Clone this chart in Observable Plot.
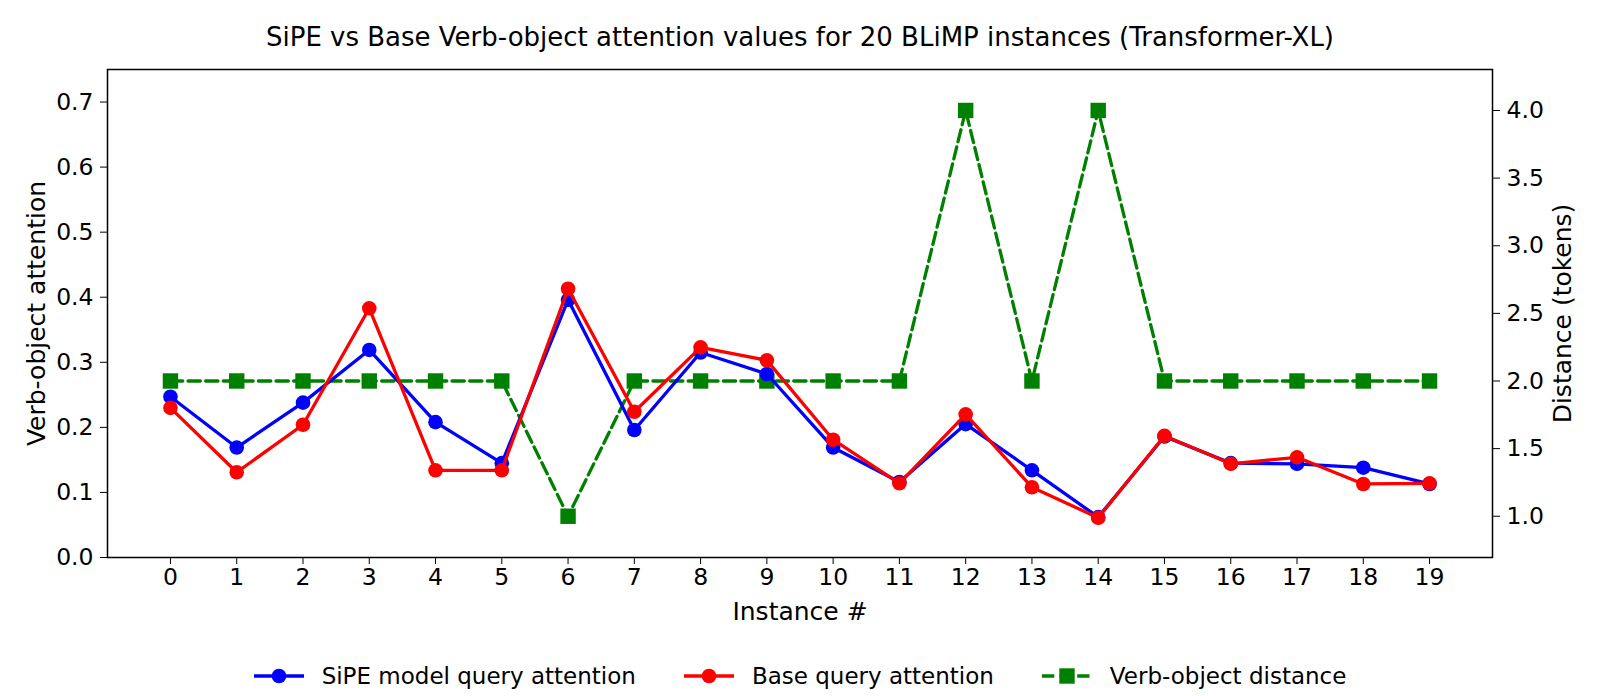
<!DOCTYPE html>
<html>
<head>
<meta charset="utf-8">
<script src="https://cdn.jsdelivr.net/npm/d3@7"></script>
<script src="https://cdn.jsdelivr.net/npm/@observablehq/plot@0.6"></script>
<style>
  html, body { margin: 0; padding: 0; background: #fff; }
  body { width: 1600px; height: 696px; position: relative; overflow: hidden; font-family: "DejaVu Sans", sans-serif; }
  #title { position: absolute; left: 0; top: 22px; width: 1600px; text-align: center; font-size: 26px; line-height: 30px; color: #000; }
  #chart { position: absolute; left: 0; top: 55px; width: 1600px; height: 585px; }
  #chart svg { position: absolute; left: 0; top: 0; background: transparent; }
  #legend { position: absolute; left: 0; top: 660px; width: 1600px; height: 32px; display: flex; justify-content: center; align-items: center; font-size: 23px; }
  .item { display: flex; align-items: center; margin: 0 24px; }
  .item svg { margin-right: 18px; }
</style>
</head>
<body>
<div id="title">SiPE vs Base Verb-object attention values for 20 BLiMP instances (Transformer-XL)</div>
<div id="chart"></div>
<div id="legend"></div>
<script>
const instances = [0,1,2,3,4,5,6,7,8,9,10,11,12,13,14,15,16,17,18,19];
const sipeAttention = [0.247,0.169,0.238,0.319,0.208,0.145,0.396,0.196,0.315,0.282,0.169,0.116,0.205,0.134,0.062,0.186,0.145,0.144,0.138,0.113];
const baseAttention = [0.230,0.131,0.204,0.383,0.134,0.134,0.413,0.224,0.323,0.303,0.181,0.114,0.220,0.108,0.061,0.187,0.144,0.154,0.113,0.114];
const distance = [2,2,2,2,2,2,1,2,2,2,2,2,4,2,4,2,2,2,2,2];
const leftTicks = [0,0.1,0.2,0.3,0.4,0.5,0.6,0.7];
const rightTicks = [1.0,1.5,2.0,2.5,3.0,3.5,4.0];
const seriesNames = ["SiPE model query attention", "Base query attention", "Verb-object distance"];

const W = 1600, H = 585;
const M = {left: 107, right: 108, top: 14, bottom: 83};
const font = "DejaVu Sans, sans-serif";
const xDomain = [-0.95, 19.95];
const tickFont = 23.5;

const sipe = instances.map((x, i) => ({x, y: sipeAttention[i]}));
const base = instances.map((x, i) => ({x, y: baseAttention[i]}));
const dist = instances.map((x, i) => ({x, y: distance[i]}));

const common = {
  width: W, height: H,
  marginLeft: M.left, marginRight: M.right, marginTop: M.top, marginBottom: M.bottom,
  style: {fontFamily: font, fontSize: "22px", color: "#000", background: "transparent", overflow: "visible"}
};

// Right axis (distance), drawn underneath
const right = Plot.plot({
  ...common,
  x: {domain: xDomain, axis: null},
  y: {domain: [0.695, 4.303]},
  marks: [
    Plot.axisY({anchor: "right", ticks: rightTicks, tickFormat: d3.format(".1f"), tickSize: 7, tickPadding: 7, fontSize: tickFont, label: null}),
    Plot.axisY({anchor: "right", ticks: [], tickSize: 0,
      label: "Distance (tokens)", labelAnchor: "center", labelArrow: "none", labelOffset: 78, fontSize: 25}),
    Plot.line(dist, {x: "x", y: "y", stroke: "green", strokeWidth: 3.3, strokeDasharray: "12.3,5.3"}),
    Plot.dot(dist, {x: "x", y: "y", symbol: "square", r: 8.7, fill: "green", stroke: "none"})
  ]
});

// Left axis (attention), drawn on top
const left = Plot.plot({
  ...common,
  x: {domain: xDomain},
  y: {domain: [0, 0.75]},
  marks: [
    Plot.frame({stroke: "#000", strokeWidth: 1.5}),
    Plot.axisX({ticks: instances, tickFormat: d3.format("d"), tickSize: 7, tickPadding: 4, fontSize: tickFont, label: null}),
    Plot.axisX({ticks: [], tickSize: 0,
      label: "Instance #", labelAnchor: "center", labelArrow: "none", labelOffset: 62, fontSize: 25}),
    Plot.axisY({ticks: leftTicks, tickFormat: d3.format(".1f"), tickSize: 7, tickPadding: 7, fontSize: tickFont, label: null}),
    Plot.axisY({ticks: [], tickSize: 0,
      label: "Verb-object attention", labelAnchor: "center", labelArrow: "none", labelOffset: 80, fontSize: 25}),
    Plot.line(sipe, {x: "x", y: "y", stroke: "blue", strokeWidth: 3.3}),
    Plot.dot(sipe, {x: "x", y: "y", r: 7.3, fill: "blue", stroke: "none"}),
    Plot.line(base, {x: "x", y: "y", stroke: "red", strokeWidth: 3.3}),
    Plot.dot(base, {x: "x", y: "y", r: 7.3, fill: "red", stroke: "none"})
  ]
});

const chart = document.getElementById("chart");
chart.appendChild(right);
chart.appendChild(left);

// Legend
const legend = d3.select("#legend");
const legendDefs = [
  {name: seriesNames[0], color: "blue", dash: null, symbol: "circle"},
  {name: seriesNames[1], color: "red", dash: null, symbol: "circle"},
  {name: seriesNames[2], color: "green", dash: "12.3,5.3", symbol: "square"}
];
legendDefs.forEach(d => {
  const item = legend.append("div").attr("class", "item");
  const s = item.append("svg").attr("width", 50).attr("height", 20);
  s.append("line").attr("x1", 0).attr("x2", 50).attr("y1", 10).attr("y2", 10)
    .attr("stroke", d.color).attr("stroke-width", 3.3).attr("stroke-dasharray", d.dash);
  if (d.symbol === "circle") s.append("circle").attr("cx", 25).attr("cy", 10).attr("r", 7.3).attr("fill", d.color);
  else s.append("rect").attr("x", 25 - 7.7).attr("y", 10 - 7.7).attr("width", 15.4).attr("height", 15.4).attr("fill", d.color);
  item.append("span").text(d.name);
});
</script>
</body>
</html>
